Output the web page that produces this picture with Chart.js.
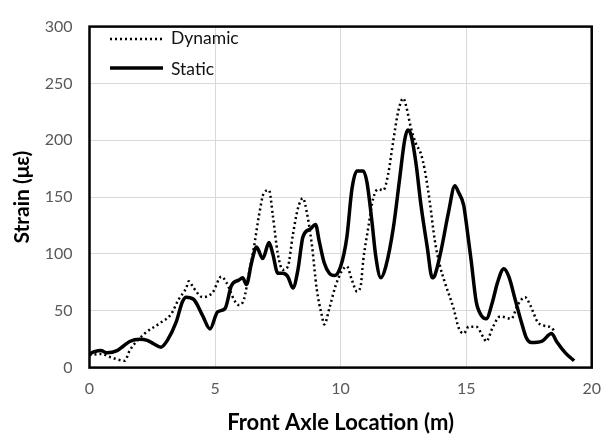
<!DOCTYPE html>
<html>
<head>
<meta charset="utf-8">
<script src="https://cdn.jsdelivr.net/npm/chart.js@4"></script>
<style>
  html, body { margin: 0; padding: 0; background: #fff; }
  #wrap { width: 613px; height: 442px; }
</style>
</head>
<body>
<div id="wrap"><canvas id="strainChart" width="613" height="442"></canvas></div>
<script>
// Strain vs front axle location

const staticX = [
  0, 0.2, 0.45, 0.7, 1.1, 1.35, 1.6, 2.0, 2.3, 2.55,
  2.85, 3.1, 3.45, 3.7, 3.85, 4.15, 4.5, 4.8, 5.1, 5.4,
  5.65, 5.95, 6.1, 6.25, 6.45, 6.65, 6.9, 7.15, 7.3, 7.5,
  7.7, 7.9, 8.1, 8.3, 8.5, 8.8, 9.0, 9.15, 9.35, 9.55,
  9.75, 10.0, 10.25, 10.45, 10.65, 10.9, 11.05, 11.25, 11.4, 11.6,
  11.8, 12.1, 12.35, 12.55, 12.67, 12.8, 13.0, 13.2, 13.45, 13.65,
  13.75, 14.0, 14.3, 14.55, 14.7, 14.9, 15.0, 15.2, 15.4, 15.6,
  15.8, 16.05, 16.25, 16.5, 16.7, 16.95, 17.2, 17.4, 17.6, 18.0,
  18.4, 18.6, 18.95, 19.3
];
const staticY = [
  12, 14, 15, 13, 15, 19, 23, 25, 24, 21,
  18, 24, 40, 58, 62, 60, 46, 34, 49, 52,
  72, 77, 79, 73, 92, 106, 96, 110, 100, 83,
  83, 80, 70, 86, 115, 122, 126, 111, 92, 83,
  81, 89, 115, 157, 173, 173, 163, 128, 98, 79,
  89, 123, 166, 200, 209, 205, 180, 143, 106, 79,
  81, 103, 137, 160, 154, 143, 128, 94, 58, 46,
  43, 58, 75, 87, 80, 60, 40, 26, 22, 23,
  30, 23, 13, 6
];

const dynamicX = [
  0, 0.45, 0.85, 1.4, 1.6, 2.2, 2.8, 3.25, 3.55, 3.85,
  3.95, 4.15, 4.5, 4.9, 5.25, 5.45, 5.75, 5.95, 6.15, 6.35,
  6.55, 6.75, 6.95, 7.15, 7.3, 7.5, 7.7, 7.9, 8.1, 8.3,
  8.5, 8.65, 8.85, 9.05, 9.25, 9.35, 9.55, 9.8, 10.05, 10.25,
  10.45, 10.65, 10.8, 10.9, 11.1, 11.3, 11.5, 11.7, 11.9, 12.1,
  12.3, 12.5, 12.6, 12.8, 13.0, 13.2, 13.35, 13.55, 13.75, 13.95,
  14.15, 14.5, 14.7, 14.9, 15.1, 15.4, 15.7, 15.8, 16.05, 16.35,
  16.8, 17.05, 17.35, 17.55, 17.85, 18.1, 18.4, 18.55
];
const dynamicY = [
  11, 12, 9, 6, 15, 30, 39, 47, 60, 70,
  76, 70, 62, 66, 80, 75, 60, 55, 60, 83,
  106, 134, 154, 156, 134, 100, 86, 89, 117, 140,
  149, 137, 109, 69, 46, 38, 52, 72, 85, 89,
  77, 67, 72, 94, 123, 149, 157, 156, 171, 200,
  226, 237, 231, 211, 197, 188, 174, 146, 112, 90,
  75, 52, 35, 30, 36, 36, 26, 23, 35, 45,
  43, 55, 62, 55, 40, 37, 35, 31
];

const xTicks = [0, 5, 10, 15, 20];
const yTicks = [0, 50, 100, 150, 200, 250, 300];
const seriesNames = ['Dynamic', 'Static'];

function toPoints(xs, ys) {
  return xs.map((x, i) => ({ x: x, y: ys[i] }));
}

const fontFamily = 'Lato, "Open Sans", sans-serif';

// frame round the plot area and the legend inside it
const framePlugin = {
  id: 'frame',
  afterDraw(chart) {
    const ctx = chart.ctx;
    const a = chart.chartArea;
    ctx.save();
    ctx.strokeStyle = '#000';
    ctx.lineWidth = 2.5;
    ctx.setLineDash([]);
    ctx.strokeRect(a.left, a.top, a.right - a.left, a.bottom - a.top);

    ctx.font = '17.5px ' + fontFamily;
    ctx.fillStyle = '#111';
    ctx.textBaseline = 'middle';

    ctx.beginPath();
    ctx.lineWidth = 2.5;
    ctx.setLineDash([2, 3]);
    ctx.moveTo(110, 39);
    ctx.lineTo(163, 39);
    ctx.stroke();
    ctx.fillText(seriesNames[0], 171, 38);

    ctx.beginPath();
    ctx.lineWidth = 3.5;
    ctx.setLineDash([]);
    ctx.moveTo(110, 68);
    ctx.lineTo(163, 68);
    ctx.stroke();
    ctx.fillText(seriesNames[1], 171, 69);
    ctx.restore();
  }
};

const ctx = document.getElementById('strainChart').getContext('2d');
new Chart(ctx, {
  type: 'scatter',
  data: {
    datasets: [
      {
        label: seriesNames[0],
        data: toPoints(dynamicX, dynamicY),
        showLine: true,
        borderColor: '#000',
        borderWidth: 2.5,
        borderDash: [2, 3],
        pointRadius: 0,
        cubicInterpolationMode: 'monotone'
      },
      {
        label: seriesNames[1],
        data: toPoints(staticX, staticY),
        showLine: true,
        borderColor: '#000',
        borderWidth: 3.5,
        pointRadius: 0,
        cubicInterpolationMode: 'monotone'
      }
    ]
  },
  options: {
    responsive: false,
    animation: false,
    layout: { padding: { left: 0, top: 16, right: 9, bottom: 0 } },
    plugins: {
      legend: { display: false },
      tooltip: { enabled: false }
    },
    scales: {
      x: {
        type: 'linear',
        min: 0,
        max: 20,
        afterBuildTicks: (scale) => { scale.ticks = xTicks.map(v => ({ value: v })); },
        afterFit: (scale) => { scale.height = 74.4; },
        border: { display: false },
        grid: { color: '#d9d9d9', lineWidth: 1, drawTicks: false },
        ticks: { color: '#595959', padding: 12, font: { family: fontFamily, size: 16 } },
        title: {
          display: true,
          text: 'Front Axle Location (m)',
          color: '#000',
          padding: { top: 0, bottom: 6 },
          font: { family: fontFamily, size: 22, weight: 'bold' }
        }
      },
      y: {
        min: 0,
        max: 300,
        afterBuildTicks: (scale) => { scale.ticks = yTicks.map(v => ({ value: v })); },
        afterFit: (scale) => { scale.width = 89.5; },
        border: { display: false },
        grid: { color: '#d9d9d9', lineWidth: 1, drawTicks: false },
        ticks: { color: '#595959', padding: 17, font: { family: fontFamily, size: 16 } },
        title: {
          display: true,
          text: 'Strain (με)',
          color: '#000',
          padding: { top: 10, bottom: 0 },
          font: { family: fontFamily, size: 21, weight: 'bold' }
        }
      }
    }
  },
  plugins: [framePlugin]
});
</script>
</body>
</html>
